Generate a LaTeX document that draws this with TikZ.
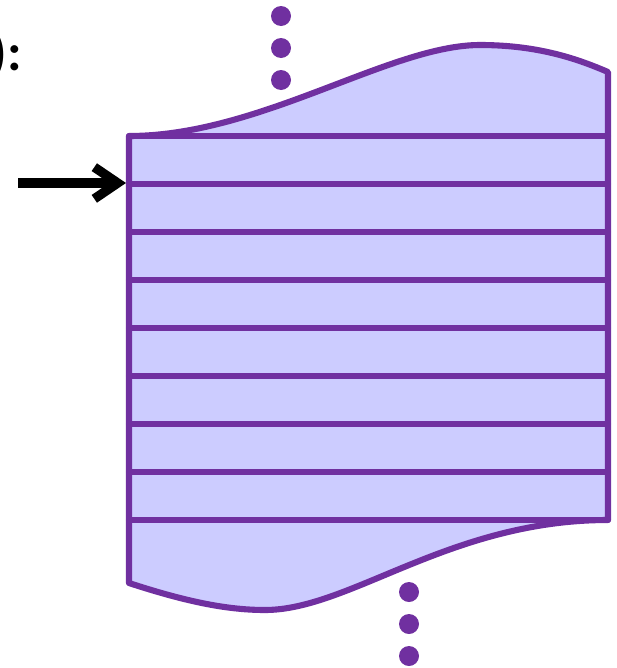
\documentclass[tikz,border=0pt]{standalone}
\usepackage{fontspec}
\setmainfont{Carlito}
\usetikzlibrary{arrows.meta, positioning}

\definecolor{stackpurple}{HTML}{7030A0}
\definecolor{stackfill}{HTML}{CCCCFF}

\begin{document}
\begin{tikzpicture}[
    x=0.03cm, y=-0.03cm,
    frame/.style={draw=stackpurple, fill=stackfill, line width=5.2pt, line join=round},
    slotline/.style={draw=stackpurple, line width=5.2pt, line cap=round},
    dot/.style={fill=stackpurple},
    pointer/.style={draw=black, line width=8pt, -{Straight Barb[length=0.7cm, width=0.95cm]}}
]
\useasboundingbox (0,0) rectangle (617,668);

% the stack region with its cut-off ends
\path[frame] (129,136) .. controls (260,136) and (390,45) .. (480,45)
    .. controls (540,45) and (580,60) .. (608,72) -- (608,520)
    .. controls (450,520) and (350,610) .. (265,610)
    .. controls (230,610) and (190,603) .. (129,583) -- cycle;
\foreach \y in {136,184,...,520}
    \draw[slotline] (129,\y) -- (608,\y);

% continuation dots
\foreach \y in {16,48,80}
    \fill[dot] (281,\y) circle[radius=0.3cm];
\foreach \y in {592,624,656}
    \fill[dot] (409,\y) circle[radius=0.3cm];

% partial label and pointer
\node[anchor=base east, inner sep=0pt, font=\bfseries\fontsize{45}{54}\selectfont] (label) at (22,70) {):};
\coordinate (tail) at (18,183);
\coordinate (slot) at (126,183);
\draw[pointer] (tail) -- (slot);
\end{tikzpicture}
\end{document}
